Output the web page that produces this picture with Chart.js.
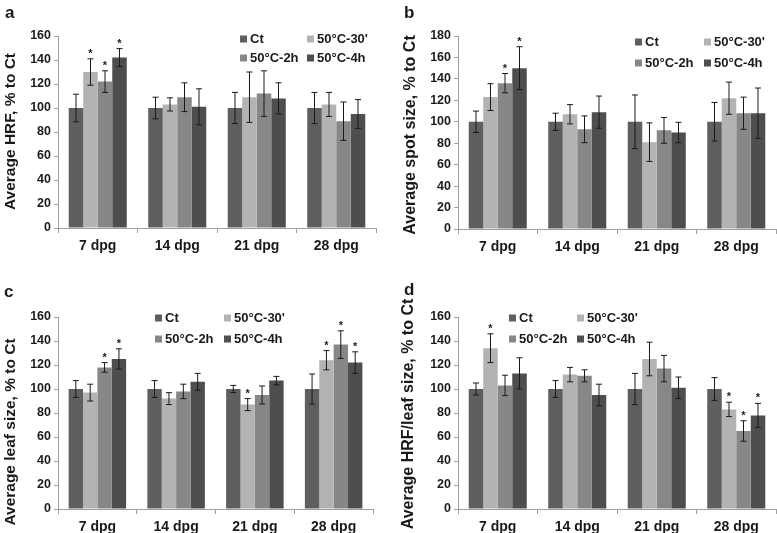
<!DOCTYPE html>
<html>
<head>
<meta charset="utf-8">
<script src="https://cdn.jsdelivr.net/npm/chart.js@4.4.1/dist/chart.umd.min.js"></script>
<style>
  body { margin: 0; background: #fff; }
  #wrap { position: relative; width: 777px; height: 533px; }
  canvas { position: absolute; }
</style>
</head>
<body>
<div id="wrap">
  <canvas id="ca" width="388" height="262" style="left:0;top:0"></canvas>
  <canvas id="cb" width="389" height="262" style="left:388px;top:0"></canvas>
  <canvas id="cc" width="388" height="271" style="left:0;top:262px"></canvas>
  <canvas id="cd" width="389" height="271" style="left:388px;top:262px"></canvas>
</div>
<script>
const categories = ["7 dpg", "14 dpg", "21 dpg", "28 dpg"];
const seriesNames = ["Ct", "50°C-30'", "50°C-2h", "50°C-4h"];
const seriesColors = ["#5f5f5f", "#b3b3b3", "#878787", "#4e4e4e"];

// panel a - HRF
const hrfMean = [[100, 100, 100, 100], [130, 103, 109, 103], [122, 109, 112, 89], [142, 101, 108, 95]];
const hrfErr = [[11.5, 9, 13, 13], [11, 5.5, 21, 10], [9, 12, 19, 16], [7.5, 15, 13, 12]];
const hrfStars = [[0, 0, 0, 0], [1, 0, 0, 0], [1, 0, 0, 0], [1, 0, 0, 0]];
const hrfTicks = [0, 20, 40, 60, 80, 100, 120, 140, 160];

// panel b - spot size
const spotMean = [[100, 100, 100, 100], [123, 107, 81, 122], [136, 93, 92, 108], [150, 109, 90, 108]];
const spotErr = [[10, 8, 25, 18], [12.5, 9, 18, 15], [9, 12.5, 12, 15], [20, 15, 9.5, 23.5]];
const spotStars = [[0, 0, 0, 0], [0, 0, 0, 0], [1, 0, 0, 0], [1, 0, 0, 0]];
const spotTicks = [0, 20, 40, 60, 80, 100, 120, 140, 160, 180];

// panel c - leaf size
const leafMean = [[100, 100, 100, 100], [97, 92, 87, 124], [118, 98, 95, 137], [125, 106, 107, 122]];
const leafErr = [[7, 7, 3, 12.5], [7, 5, 5, 8], [4, 6, 7.5, 11.5], [8.5, 7, 3.5, 9]];
const leafStars = [[0, 0, 0, 0], [0, 0, 1, 1], [1, 0, 0, 1], [1, 0, 0, 1]];
const leafTicks = [0, 20, 40, 60, 80, 100, 120, 140, 160];

// panel d - HRF/leaf size
const ratioMean = [[100, 100, 100, 100], [134, 112, 125, 83], [103, 111, 117, 65], [113, 95, 101, 78]];
const ratioErr = [[5, 7, 13, 9.5], [12, 6, 14, 6], [8.5, 5, 11, 8.5], [13, 9, 9, 10]];
const ratioStars = [[0, 0, 0, 0], [1, 0, 0, 1], [0, 0, 0, 1], [0, 0, 0, 1]];
const ratioTicks = [0, 20, 40, 60, 80, 100, 120, 140, 160];

const FONT = "'Liberation Sans', Arial, sans-serif";

const extrasPlugin = {
  id: "extras",
  afterDatasetsDraw(chart, args, opts) {
    const ctx = chart.ctx;
    const y = chart.scales.y;
    ctx.save();
    // error bars and stars
    chart.data.datasets.forEach((ds, i) => {
      const meta = chart.getDatasetMeta(i);
      meta.data.forEach((bar, j) => {
        const v = ds.data[j];
        const e = opts.err[i][j];
        const top = y.getPixelForValue(v + e);
        const bot = y.getPixelForValue(v - e);
        ctx.strokeStyle = "#1a1a1a";
        ctx.lineWidth = 1;
        ctx.beginPath();
        ctx.moveTo(bar.x, top); ctx.lineTo(bar.x, bot);
        ctx.moveTo(bar.x - 3, top); ctx.lineTo(bar.x + 3, top);
        ctx.moveTo(bar.x - 3, bot); ctx.lineTo(bar.x + 3, bot);
        ctx.stroke();
        if (opts.stars[i][j]) {
          ctx.fillStyle = "#1a1a1a";
          ctx.font = "bold 11px " + FONT;
          ctx.textAlign = "center";
          ctx.textBaseline = "middle";
          ctx.fillText("*", bar.x, top - 5);
        }
      });
    });
    // legend
    ctx.font = "bold 13px " + FONT;
    ctx.textAlign = "left";
    ctx.textBaseline = "middle";
    chart.data.datasets.forEach((ds, i) => {
      const col = i % 2, row = Math.floor(i / 2);
      const sx = opts.legend.cols[col], sy = opts.legend.rows[row];
      ctx.fillStyle = ds.backgroundColor;
      ctx.fillRect(sx, sy - 3.5, 7, 7);
      ctx.fillStyle = "#1a1a1a";
      ctx.fillText(ds.label, sx + 10, sy + 0.5);
    });
    // y axis title
    const t = opts.title;
    ctx.save();
    ctx.translate(t.x, t.y);
    ctx.rotate(-Math.PI / 2);
    ctx.font = "bold " + t.size + "px " + FONT;
    ctx.textAlign = "center";
    ctx.textBaseline = "middle";
    ctx.fillText(t.text, 0, 0);
    ctx.restore();
    // panel letter
    ctx.font = "bold 17px " + FONT;
    ctx.textAlign = "left";
    ctx.textBaseline = "alphabetic";
    ctx.fillText(opts.letter[0], opts.letter[1], opts.letter[2]);
    ctx.restore();
  }
};

function makePanel(id, letter, title, means, errs, stars, ticks, box) {
  const datasets = seriesNames.map((name, i) => ({
    label: name,
    data: means[i],
    backgroundColor: seriesColors[i],
    borderWidth: 0,
    categoryPercentage: 0.73,
    barPercentage: 1.0
  }));
  new Chart(document.getElementById(id), {
    type: "bar",
    data: { labels: categories, datasets: datasets },
    plugins: [extrasPlugin],
    options: {
      responsive: false,
      animation: false,
      layout: { padding: { top: box.top, right: box.right, left: 0, bottom: 0 } },
      plugins: {
        legend: { display: false },
        tooltip: { enabled: false },
        extras: { err: errs, stars: stars, legend: box.legend, letter: letter, title: title }
      },
      scales: {
        x: {
          grid: { display: true, drawOnChartArea: false, offset: true, tickLength: 5, color: "#a0a0a0" },
          border: { color: "#a0a0a0" },
          ticks: { color: "#1a1a1a", padding: 5, font: { family: FONT, size: 14, weight: "bold" } },
          afterFit(s) { s.height = box.xh; }
        },
        y: {
          min: 0,
          max: ticks[ticks.length - 1],
          afterBuildTicks(s) { s.ticks = ticks.map(v => ({ value: v })); },
          grid: { display: true, drawOnChartArea: false, tickLength: 4, color: "#a0a0a0" },
          border: { color: "#a0a0a0" },
          ticks: { color: "#1a1a1a", padding: 3, font: { family: FONT, size: 12.5, weight: "bold" } },
          afterFit(s) { s.width = box.yw; }
        }
      }
    }
  });
}

makePanel("ca", ["a", 5, 18], { text: "Average HRF, % to Ct", x: 11, y: 131.5, size: 15.5 },
  hrfMean, hrfErr, hrfStars, hrfTicks,
  { top: 36, right: 12, xh: 34, yw: 58, legend: { cols: [240, 307], rows: [39, 58] } });
makePanel("cb", ["b", 16, 18], { text: "Average spot size, % to Ct", x: 22.5, y: 135, size: 16 },
  spotMean, spotErr, spotStars, spotTicks,
  { top: 36, right: 1, xh: 33, yw: 70, legend: { cols: [247, 316], rows: [42, 63] } });
makePanel("cc", ["c", 4, 35], { text: "Average leaf size, % to Ct", x: 11, y: 170, size: 15.5 },
  leafMean, leafErr, leafStars, leafTicks,
  { top: 55, right: 15, xh: 24, yw: 58, legend: { cols: [155, 224], rows: [56, 77] } });
makePanel("cd", ["d", 16, 33], { text: "Average HRF/leaf size, % to Ct", x: 21, y: 152, size: 16 },
  ratioMean, ratioErr, ratioStars, ratioTicks,
  { top: 55, right: 1, xh: 24, yw: 70, legend: { cols: [121, 189], rows: [56, 77] } });
</script>
</body>
</html>
